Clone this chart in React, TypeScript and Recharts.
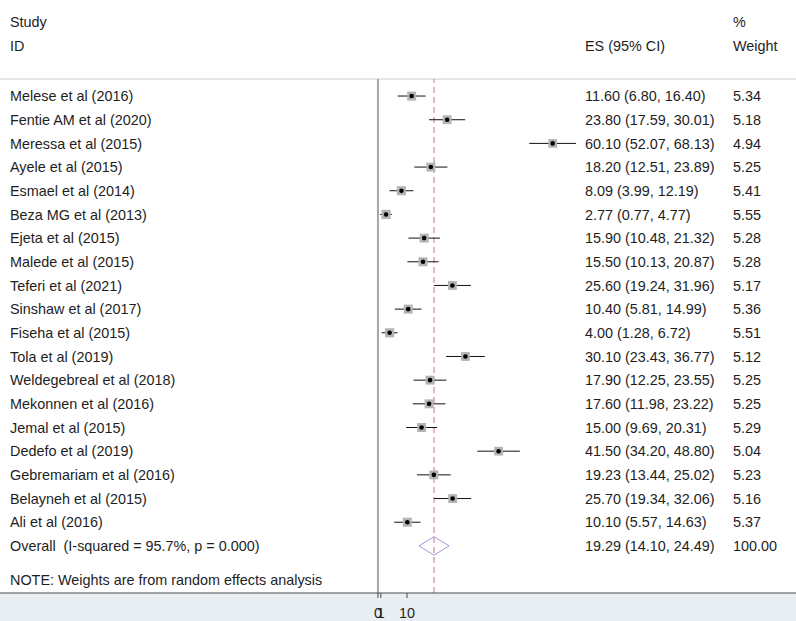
import {
  ComposedChart,
  Customized,
  ErrorBar,
  ReferenceLine,
  Scatter,
  XAxis,
  YAxis,
} from 'recharts';

const studyNames = [
  'Melese et al (2016)',
  'Fentie AM et al (2020)',
  'Meressa et al (2015)',
  'Ayele et al (2015)',
  'Esmael et al (2014)',
  'Beza MG et al (2013)',
  'Ejeta et al (2015)',
  'Malede et al (2015)',
  'Teferi et al (2021)',
  'Sinshaw et al (2017)',
  'Fiseha et al (2015)',
  'Tola et al (2019)',
  'Weldegebreal et al (2018)',
  'Mekonnen et al (2016)',
  'Jemal et al (2015)',
  'Dedefo et al (2019)',
  'Gebremariam et al (2016)',
  'Belayneh et al (2015)',
  'Ali et al (2016)',
];
const esValues = [11.6, 23.8, 60.1, 18.2, 8.09, 2.77, 15.9, 15.5, 25.6, 10.4, 4.0, 30.1, 17.9, 17.6, 15.0, 41.5, 19.23, 25.7, 10.1];
const ciLow = [6.8, 17.59, 52.07, 12.51, 3.99, 0.77, 10.48, 10.13, 19.24, 5.81, 1.28, 23.43, 12.25, 11.98, 9.69, 34.2, 13.44, 19.34, 5.57];
const ciHigh = [16.4, 30.01, 68.13, 23.89, 12.19, 4.77, 21.32, 20.87, 31.96, 14.99, 6.72, 36.77, 23.55, 23.22, 20.31, 48.8, 25.02, 32.06, 14.63];
const weights = [5.34, 5.18, 4.94, 5.25, 5.41, 5.55, 5.28, 5.28, 5.17, 5.36, 5.51, 5.12, 5.25, 5.25, 5.29, 5.04, 5.23, 5.16, 5.37];

const overallLabel = 'Overall\u00a0 (I-squared = 95.7%, p = 0.000)';
const overallEs = 19.29;
const overallLow = 14.1;
const overallHigh = 24.49;
const overallWeight = 100.0;
const noteText = 'NOTE: Weights are from random effects analysis';
const xTicks = [0, 1, 10];

const FONT = '"Liberation Sans", Arial, sans-serif';
const FS = 14.4;
const TXT = '#1e1e1e';
const COL_NAME = 10;
const COL_ES = 585;
const COL_W = 733;
const Y_DOMAIN: [number, number] = [-0.72, 20.99];

const fmt = (v: number) => v.toFixed(2);

const studyRows = studyNames.map((name, i) => ({
  name,
  x: esValues[i],
  y: i,
  err: [esValues[i] - ciLow[i], ciHigh[i] - esValues[i]],
  w: weights[i],
  esText: `${fmt(esValues[i])} (${fmt(ciLow[i])}, ${fmt(ciHigh[i])})`,
}));

const overallRow = studyNames.length;
const diamond = [
  { x: overallLow, y: overallRow },
  { x: overallEs, y: overallRow - 0.39 },
  { x: overallHigh, y: overallRow },
  { x: overallEs, y: overallRow + 0.39 },
  { x: overallLow, y: overallRow },
];
const overallText = [{ x: overallEs, y: overallRow }];
const noteRow = [{ x: overallEs, y: overallRow + 1.44 }];

function RowText({ cy, name, es, w }: { cy: number; name: string; es?: string; w?: string }) {
  return (
    <g fontFamily={FONT} fontSize={FS} fill={TXT}>
      <text x={COL_NAME} y={cy} dy="0.36em">{name}</text>
      {es && <text x={COL_ES} y={cy} dy="0.36em">{es}</text>}
      {w && <text x={COL_W} y={cy} dy="0.36em">{w}</text>}
    </g>
  );
}

function StudyShape(props: any) {
  const { cx, cy, payload } = props;
  const side = 9 * Math.sqrt(payload.w / 5.34);
  return (
    <g>
      <rect x={cx - side / 2} y={cy - side / 2} width={side} height={side} fill="#b4b4b4" />
      <circle cx={cx} cy={cy} r={2.3} fill="#000" />
      <RowText cy={cy} name={payload.name} es={payload.esText} w={fmt(payload.w)} />
    </g>
  );
}

function OverallShape(props: any) {
  return (
    <RowText
      cy={props.cy}
      name={overallLabel}
      es={`${fmt(overallEs)} (${fmt(overallLow)}, ${fmt(overallHigh)})`}
      w={fmt(overallWeight)}
    />
  );
}

function NoteShape(props: any) {
  return <RowText cy={props.cy} name={noteText} />;
}

function Header() {
  return (
    <g fontFamily={FONT} fontSize={FS} fill={TXT}>
      <text x={COL_NAME} y={22} dy="0.36em">Study</text>
      <text x={COL_NAME} y={46} dy="0.36em">ID</text>
      <text x={COL_ES} y={46} dy="0.36em">ES (95% CI)</text>
      <text x={COL_W} y={22} dy="0.36em">%</text>
      <text x={COL_W} y={46} dy="0.36em">Weight</text>
    </g>
  );
}

export default function App() {
  return (
    <div
      style={{
        position: 'absolute',
        left: 0,
        top: 0,
        width: 796,
        height: 621,
        background: 'linear-gradient(to bottom, #ffffff 593px, #e8eef2 593px)',
      }}
    >
      <ComposedChart width={796} height={621} margin={{ top: 79, right: 0, bottom: 0, left: 0 }}>
        <XAxis
          type="number"
          dataKey="x"
          domain={[-130, 143.8]}
          ticks={xTicks}
          interval={0}
          height={28}
          axisLine={{ stroke: '#4a4a4a' }}
          tickLine={{ stroke: '#4a4a4a' }}
          tickSize={5}
          tickMargin={10}
          tick={{ fill: TXT, fontSize: FS, fontFamily: FONT }}
          allowDataOverflow
        />
        <YAxis type="number" dataKey="y" domain={Y_DOMAIN} reversed hide allowDataOverflow />
        <ReferenceLine y={Y_DOMAIN[0]} stroke="#cccccc" strokeWidth={1} />
        <ReferenceLine x={0} stroke="#a6a6a6" strokeWidth={2} />
        <ReferenceLine x={overallEs} stroke="#d9a3ab" strokeWidth={1.5} strokeDasharray="6 4" />
        <Scatter data={studyRows} shape={StudyShape} isAnimationActive={false}>
          <ErrorBar dataKey="err" direction="x" width={0} stroke="#111" strokeWidth={1} />
        </Scatter>
        <Scatter
          data={diamond}
          line={{ stroke: '#9c9ce0', strokeWidth: 1 }}
          shape={() => <g />}
          isAnimationActive={false}
        />
        <Scatter data={overallText} shape={OverallShape} isAnimationActive={false} />
        <Scatter data={noteRow} shape={NoteShape} isAnimationActive={false} />
        <Customized component={Header} />
      </ComposedChart>
    </div>
  );
}
